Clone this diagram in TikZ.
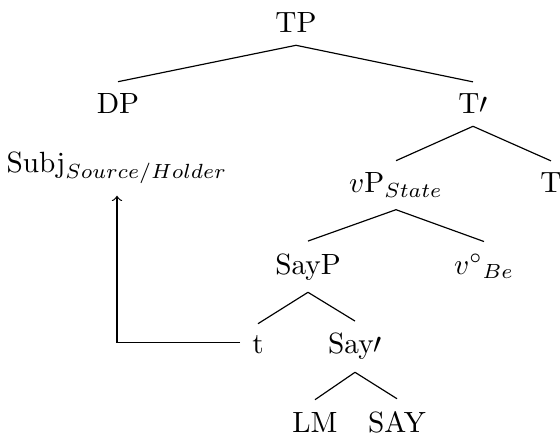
\documentclass[tikz,border=0pt]{standalone}
\begin{document}
\begin{tikzpicture}[x=0.3415pt,y=-0.3415pt,
        nodo/.style={inner sep=4pt,anchor=base},
        rama/.style={draw,line width=0.4pt},
        traza/.style={->,draw,line width=0.4pt}]
        \useasboundingbox (0,0) rectangle (560,436);
        \node[nodo] (tp) at (296,33) {TP};
        \node[nodo] (dp) at (118,114) {DP};
        \node[nodo] (tbar) at (473,114) {T$\prime$};
        \node[nodo] (subj) at (117,173) {Subj$_{Source/Holder}$};
        \node[nodo] (vp) at (396,193) {$v$P$_{State}$};
        \node[nodo] (t) at (551,193) {T};
        \node[nodo] (sayp) at (308,274) {SayP};
        \node[nodo] (vhead) at (484,274) {$v^{\circ}{}_{Be}$};
        \node[nodo] (huella) at (258,354) {t};
        \node[nodo] (saybar) at (355,354) {Say$\prime$};
        \node[nodo] (lm) at (315,432) {LM};
        \node[nodo] (say) at (397,432) {SAY};
        \draw[rama] (tp.south) -- (dp.north);\draw[rama] (tp.south) -- (tbar.north);
        \draw[rama] (tbar.south) -- (vp.north);\draw[rama] (tbar.south) -- (t.north);
        \draw[rama] (vp.south) -- (sayp.north);\draw[rama] (vp.south) -- (vhead.north);
        \draw[rama] (sayp.south) -- (huella.north);\draw[rama] (sayp.south) -- (saybar.north);
        \draw[rama] (saybar.south) -- (lm.north);\draw[rama] (saybar.south) -- (say.north);
        \draw[traza] ([yshift=1pt]huella.west) -| (subj.south);
      \end{tikzpicture}
\end{document}
